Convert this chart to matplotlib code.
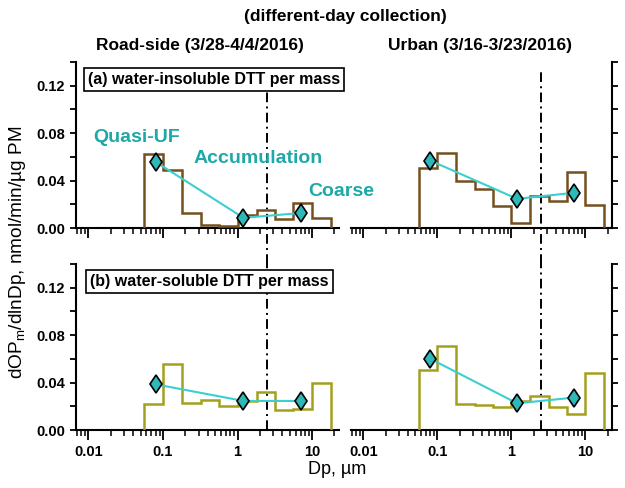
import numpy as np
import matplotlib
matplotlib.use("Agg")
import matplotlib.pyplot as plt
from matplotlib.ticker import LogLocator, NullFormatter, MultipleLocator, FixedLocator, FixedFormatter

plt.rcParams['font.family'] = ['Liberation Sans', 'DejaVu Sans']

# ---- data ----
edges = [0.056, 0.1, 0.18, 0.32, 0.56, 1.0, 1.8, 3.2, 5.6, 10, 18]
road_insol = [0.0626, 0.049, 0.0126, 0.0026, 0.0014, 0.011, 0.0149, 0.0077, 0.021, 0.0086]
urban_insol = [0.0506, 0.0634, 0.0397, 0.0326, 0.0186, 0.0046, 0.0271, 0.0226, 0.0474, 0.0197]
road_sol = [0.0216, 0.0559, 0.0225, 0.0253, 0.0202, 0.0245, 0.032, 0.0166, 0.018, 0.040]
urban_sol = [0.0506, 0.0705, 0.0222, 0.0208, 0.0197, 0.0242, 0.0287, 0.0197, 0.0135, 0.0483]

mode_dp = [0.08, 1.2, 7.0]
road_insol_mode = [0.0557, 0.0086, 0.0126]
urban_insol_mode = [0.0569, 0.0246, 0.0297]
road_sol_mode = [0.0385, 0.0245, 0.0245]
urban_sol_mode = [0.0601, 0.0225, 0.0273]

cut_dp = 2.5
xticks = [0.01, 0.1, 1, 10]
xticklabels = ['0.01', '0.1', '1', '10']
yticks = [0.00, 0.04, 0.08, 0.12]
yticklabels = ['0.00', '0.04', '0.08', '0.12']

BROWN = '#75501f'
OLIVE = '#a3a01e'
CYAN = '#3ccfd0'
TEAL_FILL = '#2fb8b8'
TEAL_TEXT = '#1fa8a8'

fig = plt.figure(figsize=(6.25, 4.88), dpi=100)
W, H = 625, 488

def axes_px(x0, y0, x1, y1):
    return fig.add_axes([x0 / W, 1 - y1 / H, (x1 - x0) / W, (y1 - y0) / H])

ax_tl = axes_px(76, 62, 339, 228)
ax_tr = axes_px(351, 62, 612, 228)
ax_bl = axes_px(76, 264, 339, 430)
ax_br = axes_px(351, 264, 612, 430)

panels = [
    (ax_tl, road_insol, road_insol_mode, BROWN, 'left', True),
    (ax_tr, urban_insol, urban_insol_mode, BROWN, 'right', True),
    (ax_bl, road_sol, road_sol_mode, OLIVE, 'left', False),
    (ax_br, urban_sol, urban_sol_mode, OLIVE, 'right', False),
]

for ax, vals, modes, col, side, top in panels:
    ax.set_xscale('log')
    ax.set_xlim(0.0068, 23)
    ax.set_ylim(0, 0.14)
    ax.stairs(vals, edges, baseline=0, color=col, lw=1.8, zorder=3)
    ax.plot(mode_dp, modes, color=CYAN, lw=1.5, zorder=4)
    ax.plot(mode_dp, modes, linestyle='none', marker='d', markersize=9.5,
            markerfacecolor=TEAL_FILL, markeredgecolor='black', markeredgewidth=1.2, zorder=5)
    if top:
        ax.axvline(cut_dp, ymin=-0.217, ymax=0.964, color='black', lw=1.4,
                   linestyle=(0, (5, 2.2, 1, 2.2)), clip_on=False, zorder=2)
    else:
        ax.axvline(cut_dp, ymin=0, ymax=1, color='black', lw=1.4,
                   linestyle=(0, (5, 2.2, 1, 2.2)), clip_on=False, zorder=2)
    for s in ['top', 'left', 'right', 'bottom']:
        ax.spines[s].set_visible(False)
    ax.spines['bottom'].set_visible(True)
    ax.spines[side].set_visible(True)
    for s in ax.spines.values():
        s.set_linewidth(1.5)
    ax.xaxis.set_major_locator(FixedLocator(xticks))
    ax.xaxis.set_minor_locator(LogLocator(base=10, subs=np.arange(2, 10)))
    ax.xaxis.set_minor_formatter(NullFormatter())
    ax.yaxis.set_major_locator(FixedLocator(yticks))
    ax.yaxis.set_minor_locator(MultipleLocator(0.02))
    ax.tick_params(axis='x', which='major', direction='out', length=7, width=1.3)
    ax.tick_params(axis='x', which='minor', direction='out', length=4, width=1.1)
    ax.tick_params(axis='y', which='both', direction='out', length=4.5, width=1.3)
    if side == 'left':
        ax.yaxis.set_ticks_position('left')
        ax.set_yticklabels(yticklabels, fontsize=10.5, fontweight='bold')
    else:
        ax.yaxis.set_ticks_position('right')
        ax.set_yticklabels([])
    if top:
        ax.set_xticklabels([])
    else:
        ax.xaxis.set_major_formatter(FixedFormatter(xticklabels))
        for lab in ax.get_xticklabels():
            lab.set_fontsize(10.5)
            lab.set_fontweight('bold')
    ax.patch.set_alpha(0)

box = dict(boxstyle='square,pad=0.25', facecolor='white', edgecolor='black', linewidth=1.2)
ax_tl.text(0.045, 0.895, '(a) water-insoluble DTT per mass', transform=ax_tl.transAxes,
           fontsize=11.5, fontweight='bold', va='center', ha='left', bbox=box, zorder=10)
ax_bl.text(0.055, 0.895, '(b) water-soluble DTT per mass', transform=ax_bl.transAxes,
           fontsize=11.5, fontweight='bold', va='center', ha='left', bbox=box, zorder=10)

ax_tl.text(0.0117, 0.0765, 'Quasi-UF', color=TEAL_TEXT, fontsize=14, fontweight='bold',
           ha='left', va='center', clip_on=False)
ax_tl.text(0.26, 0.0583, 'Accumulation', color=TEAL_TEXT, fontsize=14, fontweight='bold',
           ha='left', va='center', clip_on=False)
ax_tl.text(8.8, 0.0304, 'Coarse', color=TEAL_TEXT, fontsize=14, fontweight='bold',
           ha='left', va='center', clip_on=False)

fig.text(345 / W, 1 - 16 / H, '(different-day collection)', fontsize=12.5, fontweight='bold',
         ha='center', va='center')
fig.text(200 / W, 1 - 46 / H, 'Road-side (3/28-4/4/2016)', fontsize=12.5, fontweight='bold',
         ha='center', va='center')
fig.text(480 / W, 1 - 46 / H, 'Urban (3/16-3/23/2016)', fontsize=12.5, fontweight='bold',
         ha='center', va='center')
fig.text(18 / W, 1 - 252 / H, 'dOP$_\\mathregular{m}$/dlnDp, nmol/min/µg PM', fontsize=13.7,
         rotation=90, ha='center', va='center')
fig.text(337 / W, 1 - 470 / H, 'Dp, µm', fontsize=13, ha='center', va='center')

fig.savefig('out.png', dpi=100)
